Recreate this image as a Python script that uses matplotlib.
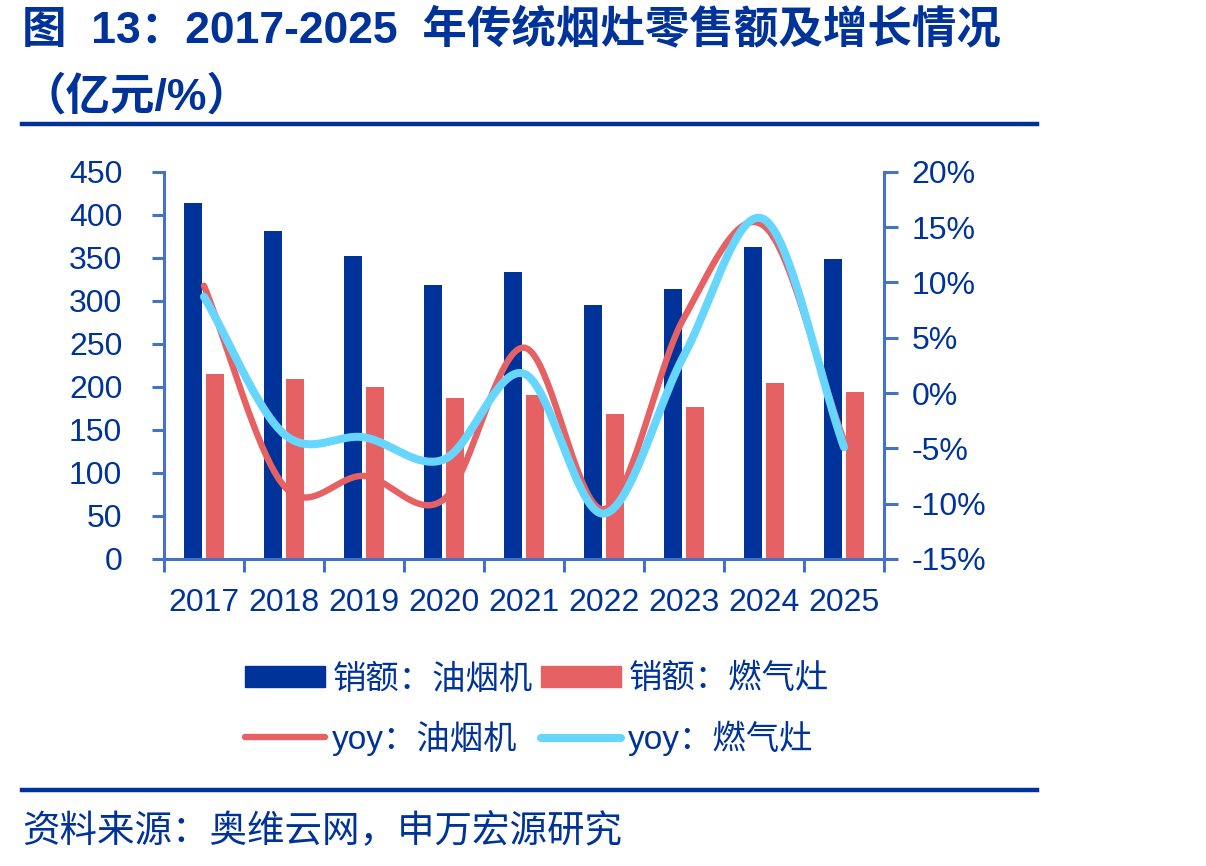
import numpy as np
import matplotlib
matplotlib.use("Agg")
import matplotlib.pyplot as plt
from matplotlib.patches import Patch
from matplotlib.lines import Line2D

# ---- data ----
years = ["2017", "2018", "2019", "2020", "2021", "2022", "2023", "2024", "2025"]
sales_hood = [414, 381, 352, 318, 333, 295, 314, 362, 349]     # 销额：油烟机 (亿元)
sales_stove = [215, 209, 200, 187, 190, 169, 177, 204, 194]    # 销额：燃气灶 (亿元)
yoy_hood = [9.7, -8.4, -7.5, -9.6, 4.1, -10.5, 6.8, 15.1, -4.3]    # yoy：油烟机 (%)
yoy_stove = [8.7, -3.7, -4.0, -6.0, 1.75, -10.9, 3.4, 15.7, -4.9]  # yoy：燃气灶 (%)
left_ticks = [0, 50, 100, 150, 200, 250, 300, 350, 400, 450]
right_ticks = [-15, -10, -5, 0, 5, 10, 15, 20]

title1 = "图  13：2017-2025  年传统烟灶零售额及增长情况"
title2 = "（亿元/%）"
source = "资料来源：奥维云网，申万宏源研究"
labels = ["销额：油烟机", "销额：燃气灶", "yoy：油烟机", "yoy：燃气灶"]

# ---- style ----
NAVY = "#003399"
BLUE_BAR = "#003399"
RED = "#E66163"
CYAN = "#66D6FF"
AXIS = "#4472C4"
CJK = ["Liberation Sans", "Noto Sans CJK SC", "DejaVu Sans"]
plt.rcParams["font.family"] = CJK


def catmull_rom(x, y, n=40):
    x = np.asarray(x, float)
    y = np.asarray(y, float)
    xs, ys = [], []
    N = len(x)
    for i in range(N - 1):
        p0 = y[i - 1] if i > 0 else y[i]
        p1, p2 = y[i], y[i + 1]
        p3 = y[i + 2] if i + 2 < N else y[i + 1]
        m1 = (p2 - p0) / (2.0 if i > 0 else 1.0)
        m2 = (p3 - p1) / (2.0 if i + 2 < N else 1.0)
        t = np.linspace(0, 1, n, endpoint=(i == N - 2))
        h00 = 2 * t**3 - 3 * t**2 + 1
        h10 = t**3 - 2 * t**2 + t
        h01 = -2 * t**3 + 3 * t**2
        h11 = t**3 - t**2
        xs.append(x[i] + t * (x[i + 1] - x[i]))
        ys.append(h00 * p1 + h10 * m1 + h01 * p2 + h11 * m2)
    return np.concatenate(xs), np.concatenate(ys)


W, H = 1206, 866
fig = plt.figure(figsize=(W / 100, H / 100), dpi=100)
ax = fig.add_axes([164 / W, 1 - 559 / H, 720 / W, 387.3 / H])
ax2 = ax.twinx()

x = np.arange(len(years))
bw = 0.225
off = 0.1375
ax.bar(x - off, sales_hood, width=bw, color=BLUE_BAR, zorder=2)
ax.bar(x + off, sales_stove, width=bw, color=RED, zorder=2)

xs, ys = catmull_rom(x, yoy_hood)
ax2.plot(xs, ys, color=RED, lw=4.6, solid_capstyle="round", zorder=3)
xs, ys = catmull_rom(x, yoy_stove)
ax2.plot(xs, ys, color=CYAN, lw=5.8, solid_capstyle="round", zorder=4)

ax.set_xlim(-0.5, len(years) - 0.5)
ax.set_ylim(0, 450)
ax.set_yticks(left_ticks)
ax2.set_ylim(-15, 20)
ax2.set_yticks(right_ticks)
ax2.set_yticklabels([f"{v}%" for v in right_ticks])

ax.set_xticks(x)
ax.set_xticklabels(years, fontfamily=["Liberation Sans"], fontsize=23)
ax.set_xticks(np.arange(-0.5, len(years), 1), minor=True)
ax.tick_params(axis="x", which="major", length=0, pad=21, colors=NAVY)
ax.tick_params(axis="x", which="minor", length=9, width=2.2, color=AXIS, direction="out")
ax.tick_params(axis="y", which="major", length=9, width=2.2, color=AXIS, direction="out",
               labelcolor=NAVY, labelsize=23, pad=21)
ax2.tick_params(axis="y", which="major", length=10, width=2.2, color=AXIS, direction="out",
                labelcolor=NAVY, labelsize=23, pad=10)
for lbl in ax.get_yticklabels() + ax2.get_yticklabels():
    lbl.set_fontfamily(["Liberation Sans"])

for a in (ax, ax2):
    a.spines["top"].set_visible(False)
    a.set_facecolor("none")
ax.spines["right"].set_visible(False)
ax2.spines["left"].set_visible(False)
ax2.spines["bottom"].set_visible(False)
for s in ("left", "bottom"):
    ax.spines[s].set_color(AXIS)
    ax.spines[s].set_linewidth(2.2)
ax2.spines["right"].set_color(AXIS)
ax2.spines["right"].set_linewidth(2.2)

# title & rules
fig.text(22 / W, 1 - 30 / H, title1, fontsize=32, fontweight="bold", color=NAVY,
         ha="left", va="center", family=CJK)
fig.text(22 / W, 1 - 97 / H, title2, fontsize=32, fontweight="bold", color=NAVY,
         ha="left", va="center", family=CJK)
fig.add_artist(Line2D([22 / W, 1037 / W], [1 - 124 / H, 1 - 124 / H], color=NAVY, lw=3.2))
fig.add_artist(Line2D([22 / W, 1037 / W], [1 - 790 / H, 1 - 790 / H], color=NAVY, lw=3.2))
fig.text(22 / W, 1 - 832 / H, source, fontsize=27, color=NAVY, ha="left", va="center",
         family=CJK)

# legend
handles = [Patch(color=BLUE_BAR), Line2D([], [], color=RED, lw=4.6, solid_capstyle="round"),
           Patch(color=RED), Line2D([], [], color=CYAN, lw=5.8, solid_capstyle="round")]
leg_labels = [labels[0], labels[2], labels[1], labels[3]]
leg = fig.legend(handles, leg_labels, loc="upper left", bbox_to_anchor=(245 / W, 1 - 664 / H),
                 ncol=2, frameon=False, handlelength=2.4, handleheight=0.6,
                 handletextpad=0.22, columnspacing=0.25, labelspacing=0.75, borderpad=0,
                 borderaxespad=0, prop={"family": CJK, "size": 24})
for t in leg.get_texts():
    t.set_color(NAVY)

fig.savefig("out.png", dpi=100)
